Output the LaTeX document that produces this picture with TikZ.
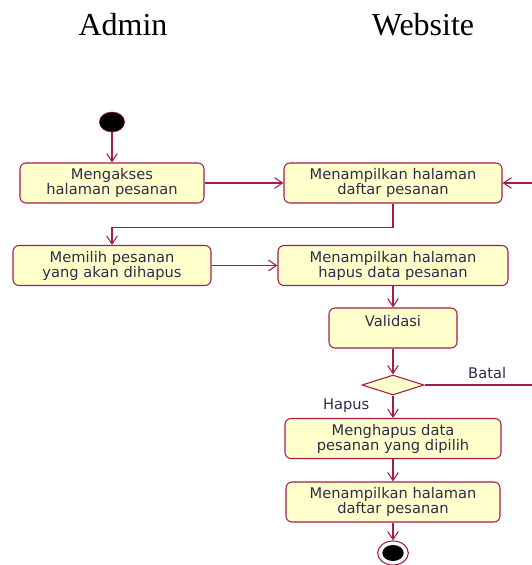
\documentclass[tikz,border=0pt]{standalone}
\usepackage{fontspec}
\setmainfont{Liberation Serif}
\newfontfamily\boxfont{DejaVu Sans}
\usetikzlibrary{shapes.geometric,arrows.meta,positioning,calc}
\definecolor{umlline}{RGB}{163,28,74}
\definecolor{umlfill}{RGB}{255,255,204}
\definecolor{umltext}{RGB}{45,45,75}

\begin{document}
\begin{tikzpicture}[x=0.75pt,y=-0.75pt,
		box/.style={draw=umlline, line width=0.8pt, rounded corners=4.5pt, fill=umlfill,
			text=umltext, minimum width=#1, minimum height=30pt, inner sep=2pt,
			align=center, font=\boxfont\fontsize{11}{11.2}\selectfont},
		lbl/.style={text=umltext, font=\boxfont\fontsize{11}{11.2}\selectfont},
		lane/.style={font=\fontsize{24}{28}\selectfont},
		arr/.style={-{Straight Barb[length=6pt,width=8pt]}, draw=umlline, line width=0.8pt}
		]
		\path[use as bounding box, clip] (0,0) rectangle (532,565);
		
		% Lane titles
		\node[lane] (admin) at (123,25) {Admin};
		\node[lane] (web)   at (423,25) {Website};
		
		% Admin side
		\node[ellipse, fill=black, draw=umlline, minimum width=19pt, minimum height=15pt, inner sep=0] (start) at (112,122) {};
		\node[box=138pt]   (akses)   at (112,183)   {Mengakses\\ halaman pesanan};
		\node[box=148.5pt] (memilih) at (112,265.5) {Memilih pesanan\\ yang akan dihapus};
		
		% Website side
		\node[box=163.5pt] (tampil1) at (393,183)   {Menampilkan halaman\\ daftar pesanan};
		\node[box=172.5pt] (tampil2) at (393,265.5) {Menampilkan halaman\\ hapus data pesanan};
		\node[box=96pt]    (valid)   at (393,328)   {Validasi\\ \mbox{}};
		\node[diamond, draw=umlline, line width=0.8pt, fill=umlfill, minimum width=46.5pt, minimum height=15pt, inner sep=0] (dec) at (393,385) {};
		\node[box=162pt]   (hapus)   at (393,438.5) {Menghapus data\\ pesanan yang dipilih};
		\node[box=160.5pt] (tampil3) at (393,502)   {Menampilkan halaman\\ daftar pesanan};
		\node[ellipse, draw=umlline, line width=0.8pt, minimum width=23pt, minimum height=18pt, inner sep=0] (end) at (393,553) {};
		\node[ellipse, fill=black, minimum width=16pt, minimum height=12pt, inner sep=0] (endin) at (end) {};
		\coordinate (balik) at (545,385);
		
		% Arrows
		\draw[arr] (start) -- (akses);
		\draw[arr] (akses) -- (tampil1);
		\draw[arr] (tampil1.south) -- ++(0,24) -| (memilih.north);
		\draw[arr] (memilih) -- (tampil2);
		\draw[arr] (tampil2) -- (valid);
		\draw[arr] (valid) -- (dec);
		\draw[arr] (dec) -- node[lbl, left=14pt, pos=0.45]{Hapus} (hapus);
		\draw[arr] (hapus) -- (tampil3);
		\draw[arr] (tampil3) -- (end);
		\draw[arr] (dec.east) -- node[lbl, above=1pt, pos=0.52]{Batal} (balik) |- (tampil1.east);
	\end{tikzpicture}
\end{document}
